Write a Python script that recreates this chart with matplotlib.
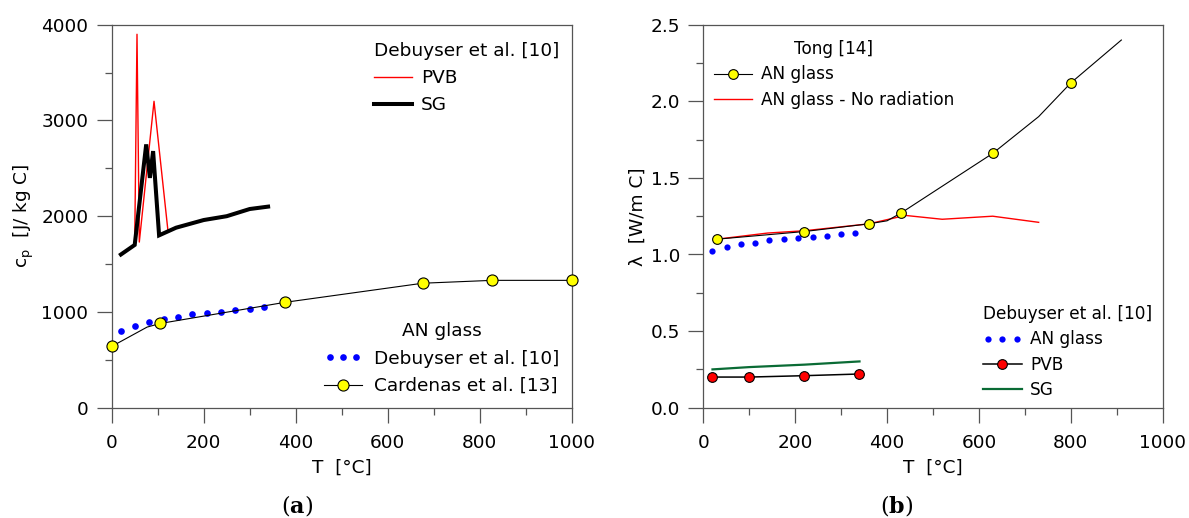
import matplotlib
matplotlib.use('Agg')
import matplotlib.pyplot as plt
from matplotlib.ticker import MultipleLocator, FormatStrFormatter
from matplotlib.legend_handler import HandlerLine2D

plt.rcParams['font.family'] = ['DejaVu Sans']
plt.rcParams['mathtext.fontset'] = 'dejavusans'

# ---------------- data: panel (a) specific heat ----------------
pvb_cp_T = [50, 55, 60, 92, 122]
pvb_cp = [1700, 3900, 1730, 3200, 1860]

sg_cp_T = [20, 50, 75, 83, 90, 103, 140, 200, 250, 300, 340]
sg_cp = [1600, 1700, 2750, 2400, 2680, 1800, 1880, 1960, 2000, 2075, 2100]

deb_glass_cp_T = [20, 51, 82, 113, 144, 175, 207, 238, 269, 300, 331]
deb_glass_cp = [797, 849, 891, 930, 950, 975, 992, 1003, 1017, 1030, 1051]

card_cp_T = [0, 77, 106, 376, 676, 827, 1000]
card_cp = [640, 842, 880, 1100, 1300, 1330, 1330]
card_marker_idx = [0, 2, 3, 4, 5, 6]

# ---------------- data: panel (b) thermal conductivity ----------------
tong_T = [30, 220, 360, 400, 430, 630, 730, 800, 910]
tong_k = [1.10, 1.15, 1.20, 1.22, 1.27, 1.66, 1.90, 2.12, 2.40]
tong_marker_idx = [0, 1, 2, 4, 5, 7]

norad_T = [30, 140, 220, 360, 440, 520, 630, 730]
norad_k = [1.10, 1.14, 1.155, 1.20, 1.255, 1.23, 1.25, 1.21]

deb_glass_k_T = [20, 51, 82, 113, 144, 175, 207, 238, 269, 300, 331]
deb_glass_k = [1.023, 1.048, 1.066, 1.077, 1.093, 1.101, 1.110, 1.116, 1.123, 1.132, 1.138]

pvb_k_T = [20, 100, 220, 340]
pvb_k = [0.200, 0.200, 0.209, 0.220]

sg_k_T = [20, 100, 220, 340]
sg_k = [0.250, 0.265, 0.281, 0.302]

x_ticks = [0, 200, 400, 600, 800, 1000]
cp_ticks = [0, 1000, 2000, 3000, 4000]
k_ticks = [0.0, 0.5, 1.0, 1.5, 2.0, 2.5]

W, H = 1189, 518
FS = 13.3
FS_R = 12.2
SPINE = '#555555'

fig = plt.figure(figsize=(W / 100, H / 100), dpi=100)
axL = fig.add_axes([111.7 / W, 1 - 407.7 / H, 460 / W, 383 / H])
axR = fig.add_axes([703.3 / W, 1 - 407.7 / H, 459.4 / W, 383 / H])


def style(ax, ymin, ymax, yminor, ytick_vals, fmt=None):
    ax.set_xlim(0, 1000)
    ax.set_ylim(ymin, ymax)
    ax.set_xticks(x_ticks)
    ax.set_yticks(ytick_vals)
    ax.xaxis.set_minor_locator(MultipleLocator(100))
    ax.yaxis.set_minor_locator(MultipleLocator(yminor))
    if fmt:
        ax.yaxis.set_major_formatter(FormatStrFormatter(fmt))
    for s in ax.spines.values():
        s.set_color(SPINE)
        s.set_linewidth(0.9)
    ax.tick_params(which='both', direction='out', color=SPINE, width=0.9,
                   labelsize=FS, top=False, right=False)
    ax.tick_params(which='major', length=10.8)
    ax.tick_params(which='minor', length=5)
    ax.tick_params(axis='x', which='major', pad=8)
    ax.tick_params(axis='y', which='major', pad=6)


style(axL, 0, 4000, 500, cp_ticks)
style(axR, 0, 2.5, 0.25, k_ticks, '%.1f')

# ---- panel (a) ----
l_deb_cp, = axL.plot(deb_glass_cp_T, deb_glass_cp, linestyle='none', marker='o',
                     markersize=4.8, color='#0000ff', markeredgewidth=0, clip_on=False)
l_card, = axL.plot(card_cp_T, card_cp, color='black', lw=0.8, marker='o',
                   markevery=card_marker_idx, markersize=8, markerfacecolor='#ffff00',
                   markeredgecolor='black', markeredgewidth=0.8, clip_on=False, zorder=3)
l_pvb, = axL.plot(pvb_cp_T, pvb_cp, color='#ff0000', lw=1.0)
l_sg, = axL.plot(sg_cp_T, sg_cp, color='black', lw=2.9, solid_joinstyle='miter')

axL.set_xlabel('T  [°C]', fontsize=FS, labelpad=5)
axL.set_ylabel('c$_\\mathregular{p}$  [J/ kg C]', fontsize=FS, labelpad=4)

fig.legend(handles=[l_pvb, l_sg], labels=['PVB', 'SG'], title='Debuyser et al. [10]',
           loc='upper left', bbox_to_anchor=(374 / W, 1 - 42 / H), frameon=False,
           fontsize=FS, title_fontsize=FS, handlelength=2.05, handletextpad=0.5,
           labelspacing=0.5, borderpad=0, borderaxespad=0, alignment='left')
fig.legend(handles=[l_deb_cp, l_card], labels=['Debuyser et al. [10]', 'Cardenas et al. [13]'],
           title='AN glass', loc='upper left', bbox_to_anchor=(324 / W, 1 - 322 / H),
           frameon=False, fontsize=FS, title_fontsize=FS, handlelength=2.05,
           handletextpad=0.65, labelspacing=0.52, borderpad=0, borderaxespad=0,
           numpoints=1, handler_map={l_deb_cp: HandlerLine2D(numpoints=3)})

# ---- panel (b) ----
l_deb_k, = axR.plot(deb_glass_k_T, deb_glass_k, linestyle='none', marker='o',
                    markersize=4.5, color='#0000ff', markeredgewidth=0)
l_norad, = axR.plot(norad_T, norad_k, color='#ff0000', lw=1.0)
l_tong, = axR.plot(tong_T, tong_k, color='black', lw=0.8, marker='o',
                   markevery=tong_marker_idx, markersize=7, markerfacecolor='#ffff00',
                   markeredgecolor='black', markeredgewidth=0.8, zorder=3)
l_sgk, = axR.plot(sg_k_T, sg_k, color='#0a6b35', lw=1.6)
l_pvbk, = axR.plot(pvb_k_T, pvb_k, color='black', lw=1.1, marker='o', markersize=7,
                   markerfacecolor='#ff0000', markeredgecolor='black', markeredgewidth=0.8,
                   clip_on=False, zorder=3)

axR.set_xlabel('T  [°C]', fontsize=FS, labelpad=5)
axR.set_ylabel('λ  [W/m C]', fontsize=FS, labelpad=3)

fig.legend(handles=[l_tong, l_norad], labels=['AN glass', 'AN glass - No radiation'],
           title='Tong [14]', loc='upper left', bbox_to_anchor=(714 / W, 1 - 40 / H),
           frameon=False, fontsize=FS_R, title_fontsize=FS_R, handlelength=2.25,
           handletextpad=0.5, labelspacing=0.44, borderpad=0, borderaxespad=0, numpoints=1)
fig.legend(handles=[l_deb_k, l_pvbk, l_sgk], labels=['AN glass', 'PVB', 'SG'],
           title='Debuyser et al. [10]', loc='upper left',
           bbox_to_anchor=(983 / W, 1 - 305 / H), frameon=False, fontsize=FS_R,
           title_fontsize=FS_R, handlelength=2.3, handletextpad=0.47, labelspacing=0.44,
           borderpad=0, borderaxespad=0, numpoints=1, alignment='left',
           handler_map={l_deb_k: HandlerLine2D(numpoints=3)})

# ---- sub-figure captions ----
for xc, letter in [(297, 'a'), (897, 'b')]:
    fig.text(xc / W, 1 - 505 / H, '(' + '$\\mathbf{' + letter + '}$' + ')',
             ha='center', va='center', fontsize=16, family='DejaVu Serif',
             math_fontfamily='dejavuserif')

fig.savefig('out.png', dpi=100)
